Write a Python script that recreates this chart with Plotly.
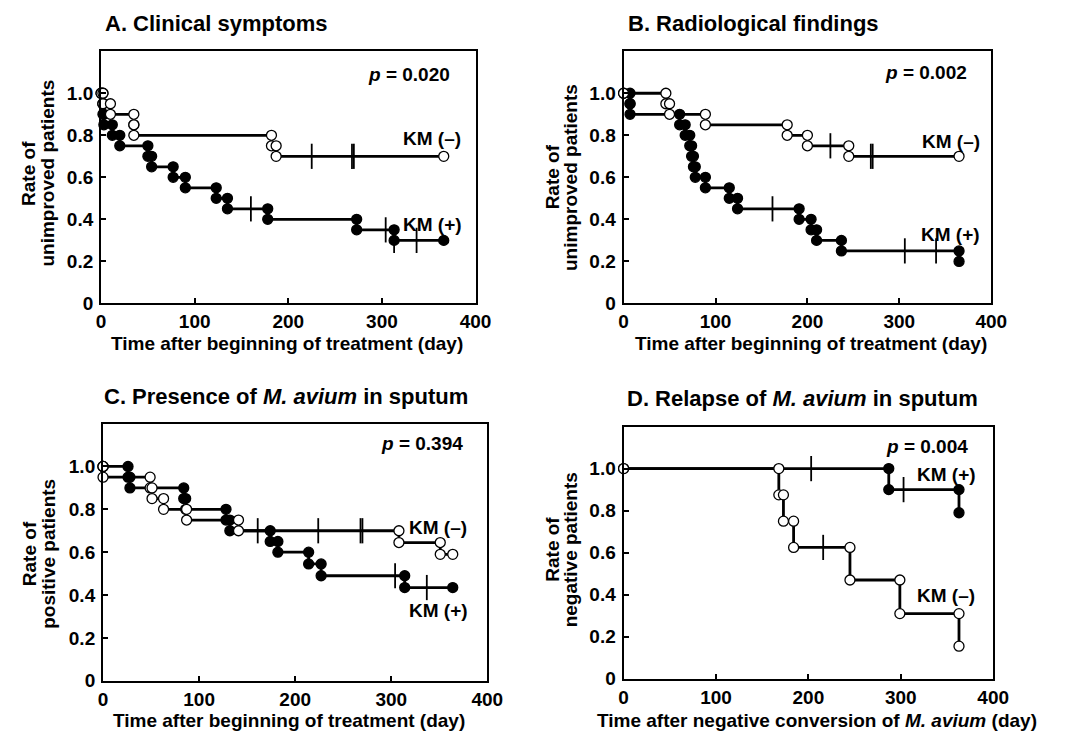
import plotly.graph_objects as go

W, H = 1068, 741
FONT = "Liberation Sans, Arial, Helvetica, sans-serif"

# ---------------- data ----------------
# Panel A: Clinical symptoms
A_pos_t = [2, 2, 3, 12, 20, 50, 54, 77, 90, 123, 135, 178, 273, 313]
A_pos_s = [0.95, 0.90, 0.85, 0.80, 0.75, 0.70, 0.65, 0.60, 0.55, 0.50, 0.45, 0.40, 0.35, 0.30]
A_pos_cens = [160, 304, 313, 337]
A_pos_end = 366
A_neg_t = [2, 10, 35, 35, 182, 187]
A_neg_s = [0.95, 0.90, 0.85, 0.80, 0.75, 0.70]
A_neg_cens = [225, 268, 270]
A_neg_end = 366

# Panel B: Radiological findings
B_pos_t = [7, 7, 61, 67, 72, 74, 76, 78, 89, 115, 124, 191, 204, 210, 237, 365]
B_pos_s = [0.95, 0.90, 0.85, 0.80, 0.75, 0.70, 0.65, 0.60, 0.55, 0.50, 0.45, 0.40, 0.35, 0.30, 0.25, 0.20]
B_pos_cens = [162, 306, 340]
B_pos_end = 365
B_neg_t = [46, 50, 89, 178, 200, 245]
B_neg_s = [0.95, 0.90, 0.85, 0.80, 0.75, 0.70]
B_neg_cens = [225, 269, 271]
B_neg_end = 365

# Panel C: Presence of M. avium in sputum
C_pos_t = [26, 28, 84, 86, 128, 132, 174, 182, 214, 227, 314]
C_pos_s = [0.95, 0.90, 0.85, 0.80, 0.75, 0.70, 0.65, 0.60, 0.545, 0.49, 0.435]
C_pos_cens = [304, 337]
C_pos_end = 364
C_neg_t = [0, 49, 51, 63, 87, 141, 308, 351]
C_neg_s = [0.95, 0.90, 0.85, 0.80, 0.75, 0.70, 0.645, 0.59]
C_neg_cens = [161, 224, 268, 270]
C_neg_end = 364

# Panel D: Relapse of M. avium in sputum
D_pos_t = [287, 363]
D_pos_s = [0.90, 0.79]
D_pos_cens = [203, 303]
D_pos_end = 363
D_neg_t = [168, 173, 184, 245, 299, 363]
D_neg_s = [0.875, 0.75, 0.625, 0.47, 0.31, 0.155]
D_neg_cens = [216]
D_neg_end = 363

x_ticks = [0, 100, 200, 300, 400]
y_ticks = [0, 0.2, 0.4, 0.6, 0.8, 1.0]
y_ticktext = ["0", "0.2", "0.4", "0.6", "0.8", "1.0"]

titles = ["A. Clinical symptoms", "B. Radiological findings",
          "C. Presence of <i>M. avium</i> in sputum", "D. Relapse of <i>M. avium</i> in sputum"]
x_titles = ["Time after beginning of treatment (day)", "Time after beginning of treatment (day)",
            "Time after beginning of treatment (day)", "Time after negative conversion of <i>M. avium</i> (day)"]
y_titles = [("Rate of", "unimproved patients"), ("Rate of", "unimproved patients"),
            ("Rate of", "positive patients"), ("Rate of", "negative patients")]
p_values = ["0.020", "0.002", "0.394", "0.004"]

# ---------------- layout geometry (pixels) ----------------
boxes = {  # x0, x1, ytop, ybottom
    "A": (98, 480, 52, 308),
    "B": (631, 1006, 52, 308),
    "C": (100, 492, 430, 691),
    "D": (631, 1008, 433, 689),
}

def px(x):
    return x / W

def py(y):
    return 1 - y / H

fig = go.Figure()

def level_at(times, levels, c):
    lv = 1.0
    for t, s in zip(times, levels):
        if t <= c:
            lv = s
    return lv

def add_km(times, levels, cens, end, xa, ya):
    xs = [0] + list(times) + [end]
    ys = [1.0] + list(levels) + [levels[-1]]
    fig.add_trace(go.Scatter(x=xs, y=ys, mode="lines", line=dict(color="black", width=2.8, shape="hv"),
                             xaxis=xa, yaxis=ya, hoverinfo="skip", showlegend=False, cliponaxis=False))
    cy = [level_at(times, levels, c) for c in cens]
    fig.add_trace(go.Scatter(x=cens, y=cy, mode="markers",
                             marker=dict(symbol="line-ns-open", size=18, color="black",
                                         line=dict(color="black", width=1.8)),
                             xaxis=xa, yaxis=ya, hoverinfo="skip", showlegend=False, cliponaxis=False))
    mx, my = [0], [1.0]
    prev = 1.0
    for t, s in zip(times, levels):
        mx += [t, t]
        my += [prev, s]
        prev = s
    if end != times[-1]:
        mx.append(end)
        my.append(levels[-1])
    return mx, my

def add_markers(mx, my, filled, xa, ya):
    fig.add_trace(go.Scatter(x=mx, y=my, mode="markers",
                             marker=dict(symbol="circle", size=10,
                                         color="black" if filled else "white",
                                         line=dict(color="black", width=1.3)),
                             xaxis=xa, yaxis=ya, hoverinfo="skip", showlegend=False, cliponaxis=False))

panels = [
    ("A", A_pos_t, A_pos_s, A_pos_cens, A_pos_end, A_neg_t, A_neg_s, A_neg_cens, A_neg_end),
    ("B", B_pos_t, B_pos_s, B_pos_cens, B_pos_end, B_neg_t, B_neg_s, B_neg_cens, B_neg_end),
    ("C", C_pos_t, C_pos_s, C_pos_cens, C_pos_end, C_neg_t, C_neg_s, C_neg_cens, C_neg_end),
    ("D", D_pos_t, D_pos_s, D_pos_cens, D_pos_end, D_neg_t, D_neg_s, D_neg_cens, D_neg_end),
]

# label positions in data coordinates (x, y)
p_pos = {"A": (375, 1.09), "B": (376, 1.10), "C": (377, 1.105), "D": (375, 1.107)}
km_neg_pos = {"A": (354, 0.783), "B": (356, 0.77), "C": (349, 0.716), "D": (349, 0.397)}
km_pos_pos = {"A": (354, 0.375), "B": (356, 0.326), "C": (349, 0.326), "D": (349, 0.97)}
title_pos = {"A": (100, 24), "B": (633, 24), "C": (99, 402), "D": (632, 404)}
xtitle_pos = {"A": (288, 349), "B": (822, 349), "C": (290, 731), "D": (828, 731)}
ytitle_pos = {"A": (24, 43, 176), "B": (558, 577, 180), "C": (25, 45, 562), "D": (559, 577, 558)}

annotations = []
for i, (key, pt, ps, pc, pe, nt, ns, nc, ne) in enumerate(panels):
    idx = "" if i == 0 else str(i + 1)
    xa, ya = "x" + idx, "y" + idx
    x0, x1, yt, yb = boxes[key]
    axfont = dict(family=FONT, size=19, color="black", weight="bold")
    fig.update_layout(**{
        "xaxis" + idx: dict(domain=[px(x0), px(x1)], anchor=ya, range=[0, 400], tickvals=x_ticks,
                            showline=True, linecolor="black", linewidth=2, mirror=True,
                            ticks="inside", ticklen=5, tickwidth=2, tickcolor="black",
                            showgrid=False, zeroline=False, tickfont=axfont, ticklabelstandoff=0),
        "yaxis" + idx: dict(domain=[py(yb), py(yt)], anchor=xa, range=[0, 1.2], tickvals=y_ticks,
                            ticktext=y_ticktext,
                            showline=True, linecolor="black", linewidth=2, mirror=True,
                            ticks="inside", ticklen=5, tickwidth=2, tickcolor="black",
                            showgrid=False, zeroline=False, tickfont=axfont, ticklabelstandoff=2),
    })
    mpx, mpy = add_km(pt, ps, pc, pe, xa, ya)
    mnx, mny = add_km(nt, ns, nc, ne, xa, ya)
    add_markers(mpx, mpy, True, xa, ya)
    add_markers(mnx, mny, False, xa, ya)

    bold = lambda s: dict(family=FONT, size=s, color="black", weight="bold")
    annotations.append(dict(text=titles[i], x=px(title_pos[key][0]), y=py(title_pos[key][1]),
                            xref="paper", yref="paper", xanchor="left", yanchor="middle",
                            showarrow=False, font=bold(22)))
    annotations.append(dict(text=x_titles[i], x=px(xtitle_pos[key][0]), y=py(xtitle_pos[key][1]),
                            xref="paper", yref="paper", xanchor="center", yanchor="middle",
                            showarrow=False, font=bold(19)))
    yx1, yx2, yy = ytitle_pos[key]
    annotations.append(dict(text=y_titles[i][0], x=px(yx1), y=py(yy), xref="paper", yref="paper",
                            xanchor="center", yanchor="middle", textangle=-90,
                            showarrow=False, font=bold(19)))
    annotations.append(dict(text=y_titles[i][1], x=px(yx2), y=py(yy), xref="paper", yref="paper",
                            xanchor="center", yanchor="middle", textangle=-90,
                            showarrow=False, font=bold(19)))
    annotations.append(dict(text="<i>p</i> = " + p_values[i], x=p_pos[key][0], y=p_pos[key][1],
                            xref=xa, yref=ya, xanchor="right", yanchor="middle",
                            showarrow=False, font=bold(19)))
    annotations.append(dict(text="KM (–)", x=km_neg_pos[key][0], y=km_neg_pos[key][1],
                            xref=xa, yref=ya, xanchor="center", yanchor="middle",
                            showarrow=False, font=bold(19)))
    annotations.append(dict(text="KM (+)", x=km_pos_pos[key][0], y=km_pos_pos[key][1],
                            xref=xa, yref=ya, xanchor="center", yanchor="middle",
                            showarrow=False, font=bold(19)))

fig.update_layout(width=W, height=H, margin=dict(l=0, r=0, t=0, b=0),
                  paper_bgcolor="white", plot_bgcolor="white",
                  annotations=annotations, showlegend=False,
                  font=dict(family=FONT, color="black"))

fig.write_html("out.html")
